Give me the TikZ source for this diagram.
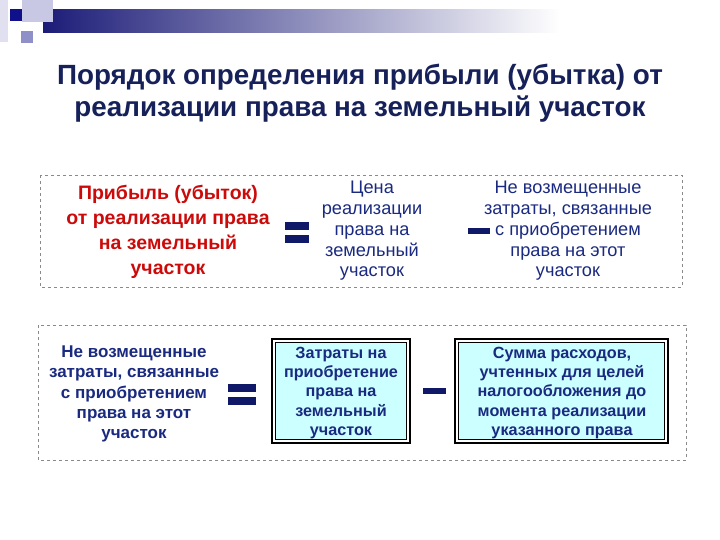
\documentclass[tikz,border=0pt]{standalone}
\usepackage{fontspec}
\setmainfont{Liberation Sans}
\usetikzlibrary{calc}
\definecolor{titlecol}{HTML}{16215A}
\definecolor{navytxt}{HTML}{1A2A80}
\definecolor{redtxt}{HTML}{CC0A0A}
\definecolor{signcol}{HTML}{101868}
\definecolor{boxfill}{HTML}{CCFFFF}
\definecolor{barnavy}{HTML}{1C1C78}
\definecolor{dashcol}{HTML}{8A8A8A}
\definecolor{decA}{RGB}{224,224,240}
\definecolor{decB}{RGB}{200,200,228}
\definecolor{decC}{RGB}{16,16,138}
\definecolor{decD}{RGB}{144,144,200}
\tikzset{
  frame/.style={draw=dashcol, dashed, line width=0.8pt},
  titletxt/.style={align=center, text=titlecol, font=\bfseries\fontsize{27.8}{32}\selectfont},
  redlbl/.style={align=center, text=redtxt, font=\bfseries\fontsize{19.5}{25}\selectfont},
  navylbl/.style={align=center, text=navytxt, font=\fontsize{18.2}{20.8}\selectfont},
  navybold/.style={align=center, text=navytxt, font=\bfseries\fontsize{17}{20.2}\selectfont},
  boxbold/.style={align=center, text=navytxt, font=\bfseries\fontsize{16.2}{19.4}\selectfont},
  bar/.style={fill=signcol, draw=none},
}
\begin{document}
\begin{tikzpicture}[x=1pt,y=-1pt]
\useasboundingbox (0,0) rectangle (720,540);
% decoration
\fill[white] (0,0) rectangle (720,540);
\fill[left color=barnavy, right color=white, draw=none] (43,10) rectangle (560,33);
\fill[decA] (0,0) rectangle (8,42);
\fill[decB] (22,0) rectangle (53,22);
\fill[decC] (10,9) rectangle (22,21);
\fill[decD] (21,31) rectangle (33,43);
% title
\node[titletxt] (title) at (360,93) {Порядок определения прибыли (убытка) от\\реализации права на земельный участок};
% row 1
\draw[frame] (40,175) rectangle (682,287);
\node[redlbl] (profit) at (168,232) {Прибыль (убыток)\\от реализации права\\на земельный\\участок};
\fill[bar] (285,222) rectangle (309,230);
\fill[bar] (285,235) rectangle (309,243);
\node[navylbl] (price) at (372,231) {Цена\\реализации\\права на\\земельный\\участок};
\fill[bar] (468,228) rectangle (490,234);
\node[navylbl] (unrec) at (568,231) {Не возмещенные\\затраты, связанные\\с приобретением\\права на этот\\участок};
% row 2
\draw[frame] (38,325) rectangle (686,460);
\node[navybold] (unrec2) at (134,394) {Не возмещенные\\затраты, связанные\\с приобретением\\права на этот\\участок};
\fill[bar] (228,384) rectangle (256,392);
\fill[bar] (228,397) rectangle (256,405);
\draw[black, line width=1.6pt] (272,339) rectangle (410,443);
\draw[black, line width=0.6pt, fill=boxfill] (275.5,342.5) rectangle (406.5,439.5);
\node[boxbold] (cost) at (341,393) {Затраты на\\приобретение\\права на\\земельный\\участок};
\fill[bar] (423,388) rectangle (446,394);
\draw[black, line width=1.6pt] (455,339) rectangle (668,443);
\draw[black, line width=0.6pt, fill=boxfill] (458.5,342.5) rectangle (664.5,439.5);
\node[boxbold] (sum) at (562,393) {Сумма расходов,\\учтенных для целей\\налогообложения до\\момента реализации\\указанного права};
\end{tikzpicture}
\end{document}
